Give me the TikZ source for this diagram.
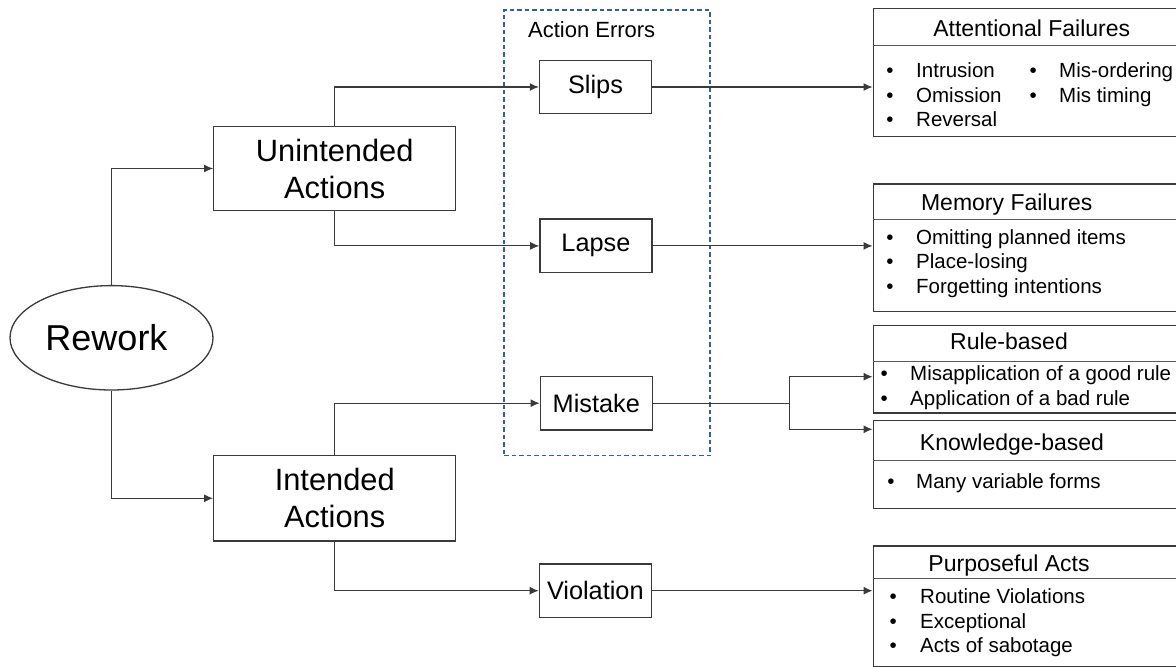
\documentclass[tikz,border=0pt]{standalone}
\usepackage{fontspec}
\setmainfont{Liberation Sans}
\usetikzlibrary{arrows.meta,shapes.geometric}
\definecolor{dashblue}{HTML}{2F5FA8}
\definecolor{linegray}{HTML}{3A3A3A}
\tikzset{
  conn/.style={draw=linegray, line width=1.1pt},
  arr/.style={conn, -{Latex[length=9pt,width=8pt]}},
  mainbox/.style={draw=linegray, line width=1.4pt, rectangle, inner sep=0pt, align=center,
     minimum width=242pt, font=\fontsize{30.8}{37}\selectfont},
  ebox/.style={draw=linegray, line width=1.4pt, rectangle, inner sep=0pt,
     minimum width=112pt, minimum height=53.5pt, font=\fontsize{25.3}{30}\selectfont},
  errframe/.style={draw=dashblue, line width=1.3pt, dash pattern=on 4.5pt off 3pt, rectangle,
     inner sep=0pt, minimum width=206pt, minimum height=445.7pt},
  rbox/.style={draw=linegray, line width=1.4pt, rectangle, inner sep=0pt, anchor=north west,
     minimum width=330pt},
  div/.style={draw=black!65, line width=1pt},
  ttl/.style={anchor=base, inner sep=0pt, font=\fontsize{23}{27}\selectfont},
  bul/.style={anchor=base, inner sep=0pt, font=\fontsize{20.5}{24}\selectfont},
  itm/.style={anchor=base west, inner sep=0pt, font=\fontsize{20.5}{24}\selectfont},
}
\begin{document}
\begin{tikzpicture}[x=1pt,y=-1pt]
\path[use as bounding box, fill=white] (0,0) rectangle (1176,667);
\clip (0,0) rectangle (1176,667);

% left part
\node[draw=linegray, line width=1.3pt, ellipse, inner sep=0pt, minimum width=203pt, minimum height=104.4pt,
      font=\fontsize{36}{42}\selectfont] (rework) at (111.5,337.8) {\hspace*{-10pt}Rework};
\node[mainbox, minimum height=84.4pt] (unint) at (334.7,168.5) {Unintended\\Actions};
\node[mainbox, minimum height=85.3pt] (intend) at (334.7,498.3) {Intended\\Actions};

% action errors
\node[errframe] (errors) at (607,232.85) {};
\node[anchor=base, inner sep=0pt, font=\fontsize{22}{26}\selectfont] (errlbl) at (591.7,37.2) {Action Errors};
\node[ebox] (slips) at (595.5,87) {Slips};
\node[ebox] (lapse) at (595.9,245.9) {Lapse};
\node[ebox] (mistake) at (596.3,403.2) {Mistake};
\node[ebox] (violation) at (595.3,590.7) {Violation};

% right boxes
\node[rbox, minimum height=128pt] (attn) at (872.5,8) {};
\node[rbox, minimum height=127.7pt] (mem) at (872.5,183.3) {};
\node[rbox, minimum height=87.3pt] (rule) at (872.5,325) {};
\node[rbox, minimum height=87.7pt] (know) at (872.5,420) {};
\node[rbox, minimum height=120.7pt] (purp) at (872.5,545.3) {};

\draw[div] (attn.north west) ++(0,37.7) -- ++(330,0);
\draw[div] (mem.north west) ++(0,36) -- ++(330,0);
\draw[div] (rule.north west) ++(0,36) -- ++(330,0);
\draw[div] (know.north west) ++(0,40.7) -- ++(330,0);
\draw[div] (purp.north west) ++(0,33.4) -- ++(330,0);

% Attentional Failures
\node[ttl] (attnT) at (1031.7,36.4) {Attentional Failures};
\node[bul] (ab1) at (890,77) {•};
\node[itm] (ai1) at (916,77) {Intrusion};
\node[bul] (ab2) at (890,102) {•};
\node[itm] (ai2) at (916,102) {Omission};
\node[bul] (ab3) at (890,126.5) {•};
\node[itm] (ai3) at (916,126.5) {Reversal};
\node[bul] (ab4) at (1033.3,77) {•};
\node[itm] (ai4) at (1059,77) {Mis-ordering};
\node[bul] (ab5) at (1033.3,102) {•};
\node[itm] (ai5) at (1059,102) {Mis timing};

% Memory Failures
\node[ttl] (memT) at (1006.7,210) {Memory Failures};
\node[bul] (mb1) at (890,244.5) {•};
\node[itm] (mi1) at (916,244.5) {Omitting planned items};
\node[bul] (mb2) at (890,268.9) {•};
\node[itm] (mi2) at (916,268.9) {Place-losing};
\node[bul] (mb3) at (890,293.9) {•};
\node[itm] (mi3) at (916,293.9) {Forgetting intentions};

% Rule-based
\node[ttl] (ruleT) at (1009,349.8) {Rule-based};
\node[bul] (rb1) at (884.3,380.5) {•};
\node[itm] (ri1) at (910,380.5) {Misapplication of a good rule};
\node[bul] (rb2) at (884.3,405.5) {•};
\node[itm] (ri2) at (910,405.5) {Application of a bad rule};

% Knowledge-based
\node[ttl] (knowT) at (1012,450.8) {Knowledge-based};
\node[bul] (kb1) at (891,488.9) {•};
\node[itm] (ki1) at (916,488.9) {Many variable forms};

% Purposeful Acts
\node[ttl] (purpT) at (1009,571.4) {Purposeful Acts};
\node[bul] (pb1) at (893.3,603.9) {•};
\node[itm] (pi1) at (920,603.9) {Routine Violations};
\node[bul] (pb2) at (893.3,628.9) {•};
\node[itm] (pi2) at (920,628.9) {Exceptional};
\node[bul] (pb3) at (893.3,652.2) {•};
\node[itm] (pi3) at (920,652.2) {Acts of sabotage};

% connectors
\draw[arr] (rework.north) |- (unint.west);
\draw[arr] (rework.south) |- (intend.west);
\draw[arr] (unint.north) |- (slips.west);
\draw[arr] (unint.south) |- (lapse.west);
\draw[arr] (intend.north) |- (mistake.west);
\draw[arr] (intend.south) |- (violation.west);

\draw[arr] (slips.east) -- (slips.east -| attn.west);
\draw[arr] (lapse.east) -- (lapse.east -| mem.west);
\draw[arr] (violation.east) -- (violation.east -| purp.west);

\coordinate (br) at (789.3,403.2);
\path (rule.north west) ++(0,51.7) coordinate (ruleIn);
\path (know.north west) ++(0,9.3) coordinate (knowIn);
\draw[conn] (mistake.east) -- (br);
\draw[arr] (br) |- (ruleIn);
\draw[arr] (br) |- (knowIn);
\end{tikzpicture}
\end{document}
